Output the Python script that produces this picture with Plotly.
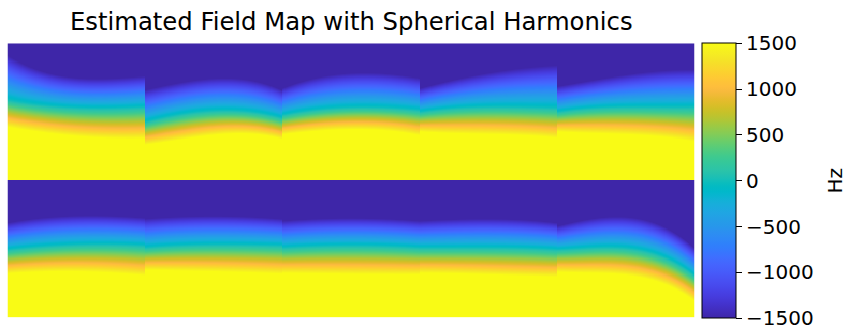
import numpy as np
import plotly.graph_objects as go

# ---- data (depths in px below each slice's top edge, slice = 137.2 px) ----
X_FRAC = [0.0, 0.25, 0.5, 0.75, 1.0]          # sample positions across each slice
SLICE_LABELS = ["s1", "s2", "s3", "s4", "s5", "s6", "s7", "s8", "s9", "s10"]
# depth where field leaves -1400 Hz (edge of dark blue)
BLUE_EDGE = [
    [15, 30, 37, 37, 35],
    [49, 42, 37, 39, 49],
    [47, 37, 32, 33, 37],
    [47, 38, 33, 27, 25],
    [45, 39, 34, 30, 29],
    [44.5, 39.5, 37.5, 37.5, 39.5],
    [40.5, 38.5, 37.5, 38.5, 40.5],
    [42.5, 40.5, 39.5, 40.5, 42.5],
    [42.5, 41, 40.5, 41.5, 44.5],
    [47.5, 41, 38, 47.5, 69.5],
]
# depth of the 0 Hz contour
ZERO_LINE = [
    [57, 62, 65, 65, 64],
    [79, 72, 67, 69, 75],
    [72, 67, 64, 65, 67],
    [69, 65, 64, 64, 65],
    [69, 65, 64, 64, 64],
    [69.5, 66.5, 64.5, 64.5, 65.5],
    [67.5, 65.5, 64.5, 65, 65.5],
    [67.5, 66, 65.5, 66, 67.5],
    [67.5, 67.5, 67.5, 68, 69.5],
    [69.5, 67.5, 68, 75.5, 95.5],
]
# depth of the +1000 Hz contour (orange)
ORANGE_LINE = [
    [75, 80, 84, 85, 85],
    [94, 89, 83, 84, 89],
    [85, 81, 79, 80, 84],
    [82, 82, 82, 83, 85],
    [82, 82, 82, 84, 87],
    [85.5, 83.5, 82.5, 83.5, 85.5],
    [82.5, 82.5, 82.5, 83.5, 84.5],
    [84.5, 84.5, 84.5, 85, 85.5],
    [84.5, 85, 85.5, 86.5, 87.5],
    [84.5, 84.5, 86, 93.5, 112.5],
]
BLUE_LEVEL, ORANGE_LEVEL = -1400.0, 1000.0
CB_TICKS = [-1500, -1000, -500, 0, 500, 1000, 1500]
CB_TEXT = ["\u22121500", "\u22121000", "\u2212500", "0", "500", "1000", "1500"]
TITLE = "Estimated Field Map with Spherical Harmonics"
CB_LABEL = "Hz"

PARULA = [
    [0.2422, 0.1504, 0.6603], [0.2504, 0.1650, 0.7076], [0.2578, 0.1818, 0.7511], [0.2647, 0.1978, 0.7952],
    [0.2706, 0.2147, 0.8364], [0.2751, 0.2342, 0.8710], [0.2783, 0.2559, 0.8991], [0.2803, 0.2782, 0.9221],
    [0.2813, 0.3006, 0.9414], [0.2810, 0.3228, 0.9579], [0.2795, 0.3447, 0.9717], [0.2760, 0.3667, 0.9829],
    [0.2699, 0.3892, 0.9906], [0.2602, 0.4123, 0.9952], [0.2440, 0.4358, 0.9988], [0.2206, 0.4603, 0.9973],
    [0.1963, 0.4847, 0.9892], [0.1834, 0.5074, 0.9798], [0.1786, 0.5289, 0.9682], [0.1764, 0.5499, 0.9520],
    [0.1687, 0.5703, 0.9359], [0.1540, 0.5902, 0.9218], [0.1460, 0.6091, 0.9079], [0.1380, 0.6276, 0.8973],
    [0.1248, 0.6459, 0.8883], [0.1113, 0.6635, 0.8763], [0.0952, 0.6798, 0.8598], [0.0689, 0.6948, 0.8394],
    [0.0297, 0.7082, 0.8163], [0.0036, 0.7203, 0.7917], [0.0067, 0.7312, 0.7660], [0.0433, 0.7411, 0.7394],
    [0.0964, 0.7500, 0.7120], [0.1408, 0.7584, 0.6842], [0.1717, 0.7670, 0.6554], [0.1938, 0.7758, 0.6251],
    [0.2161, 0.7843, 0.5923], [0.2470, 0.7918, 0.5567], [0.2906, 0.7973, 0.5188], [0.3406, 0.8008, 0.4789],
    [0.3909, 0.8029, 0.4354], [0.4456, 0.8024, 0.3909], [0.5044, 0.7993, 0.3480], [0.5616, 0.7942, 0.3045],
    [0.6174, 0.7876, 0.2612], [0.6720, 0.7793, 0.2227], [0.7242, 0.7698, 0.1910], [0.7738, 0.7598, 0.1646],
    [0.8203, 0.7498, 0.1535], [0.8634, 0.7406, 0.1596], [0.9035, 0.7330, 0.1774], [0.9393, 0.7288, 0.2100],
    [0.9728, 0.7298, 0.2394], [0.9956, 0.7434, 0.2371], [0.9970, 0.7659, 0.2199], [0.9952, 0.7893, 0.2028],
    [0.9892, 0.8136, 0.1885], [0.9786, 0.8386, 0.1766], [0.9676, 0.8639, 0.1643], [0.9610, 0.8890, 0.1537],
    [0.9597, 0.9135, 0.1423], [0.9628, 0.9373, 0.1265], [0.9691, 0.9606, 0.1064], [0.9769, 0.9839, 0.0805],
]
colorscale = [[i / (len(PARULA) - 1), "rgb(%d,%d,%d)" % tuple(round(c * 255) for c in rgb)]
              for i, rgb in enumerate(PARULA)]

# ---- build the montage image (2 rows x 5 slices) ----
R = 128
SLICE_PX = 137.2
n_rows, n_cols = 2, 5
z = np.zeros((n_rows * R, n_cols * R))
fx = (np.arange(R) + 0.5) / R
depth = (np.arange(R) + 0.5) / R * SLICE_PX
for p in range(len(SLICE_LABELS)):
    r, c = divmod(p, n_cols)
    blue = np.polyval(np.polyfit(X_FRAC, BLUE_EDGE[p], 3), fx)
    zero = np.polyval(np.polyfit(X_FRAC, ZERO_LINE[p], 3), fx)
    orng = np.polyval(np.polyfit(X_FRAC, ORANGE_LINE[p], 3), fx)
    D = depth[:, None]
    upper = BLUE_LEVEL * (zero[None, :] - D) / (zero[None, :] - blue[None, :])
    lower = ORANGE_LEVEL * (D - zero[None, :]) / (orng[None, :] - zero[None, :])
    tile = np.where(D < zero[None, :], upper, lower)
    z[r * R:(r + 1) * R, c * R:(c + 1) * R] = np.clip(tile, -1500, 1500)

W, H = 845, 327
px_l, px_r, px_t, px_b = 7.5, 694.5, 43.3, 317.5

fig = go.Figure(go.Heatmap(
    z=z, x=np.arange(n_cols * R), y=np.arange(n_rows * R),
    colorscale=colorscale, zmin=-1500, zmax=1500, zsmooth=False,
    hoverinfo="skip",
    colorbar=dict(
        thickness=34, thicknessmode="pixels",
        len=(318.3 - 43.3) / H, lenmode="fraction",
        y=(H - 318.3) / H, yanchor="bottom", ypad=0,
        x=701.7 / W, xanchor="left", xpad=0,
        outlinewidth=1, outlinecolor="black",
        ticks="outside", ticklen=6, tickwidth=1, tickcolor="black",
        tickvals=CB_TICKS, ticktext=CB_TEXT, ticklabeloverflow="allow",
        tickfont=dict(family="DejaVu Sans", size=20, color="black"),
    ),
))
fig.update_layout(
    width=W, height=H,
    margin=dict(l=0, r=0, t=0, b=0),
    paper_bgcolor="white", plot_bgcolor="white",
    xaxis=dict(visible=False, domain=[px_l / W, px_r / W], range=[-0.5, n_cols * R - 0.5]),
    yaxis=dict(visible=False, domain=[(H - px_b) / H, (H - px_t) / H],
               range=[n_rows * R - 0.5, -0.5]),
    annotations=[
        dict(text=TITLE, x=(px_l + px_r) / 2 / W, y=(H - 22) / H, xref="paper", yref="paper",
             xanchor="center", yanchor="middle", showarrow=False,
             font=dict(family="DejaVu Sans", size=24.3, color="black")),
        dict(text=CB_LABEL, x=834.5 / W, y=(H - 181) / H, xref="paper", yref="paper",
             xanchor="center", yanchor="middle", showarrow=False, textangle=-90,
             font=dict(family="DejaVu Sans", size=20, color="black")),
    ],
)
fig.write_html("out.html", config={"displayModeBar": False},
               post_script="document.body.style.margin='0';document.body.style.overflow='hidden';")
